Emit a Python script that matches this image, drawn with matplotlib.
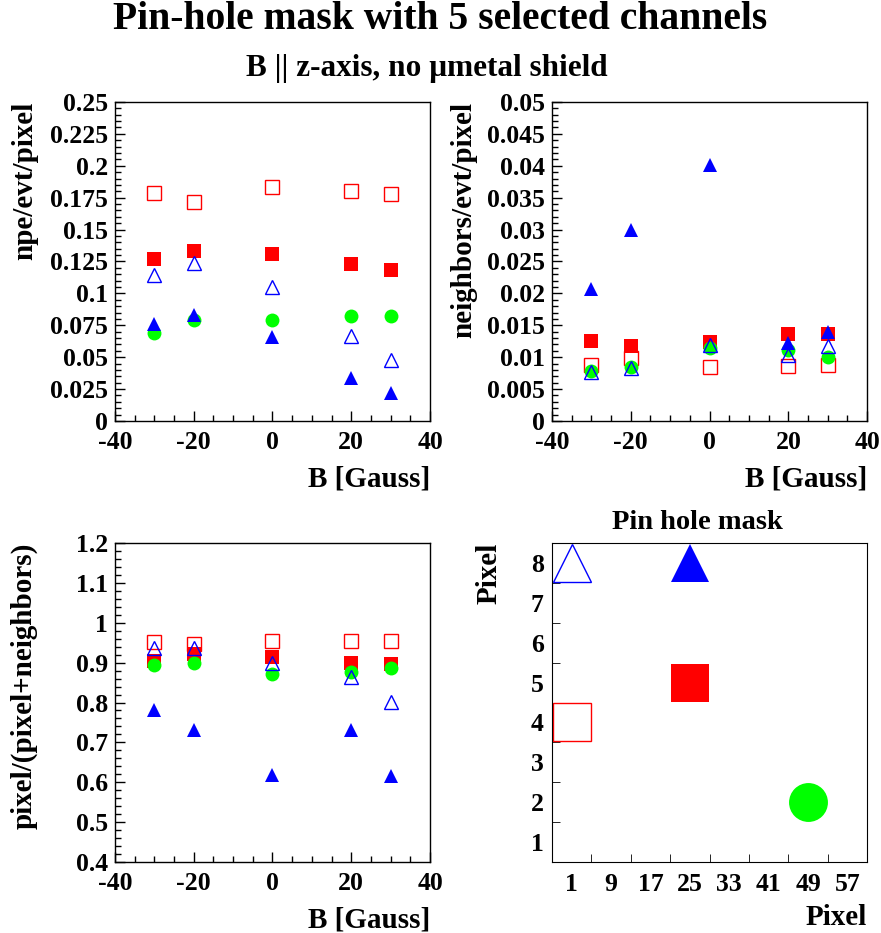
import numpy as np
import matplotlib.pyplot as plt
from matplotlib.ticker import MultipleLocator

plt.rcParams['font.family'] = ['Liberation Serif', 'DejaVu Serif']
plt.rcParams['font.weight'] = 'bold'
plt.rcParams['axes.labelweight'] = 'bold'
plt.rcParams['axes.titleweight'] = 'bold'
plt.rcParams['axes.unicode_minus'] = False

B = [-30, -20, 0, 20, 30]

# npe/evt/pixel
npe_open_sq = [0.179, 0.1715, 0.183, 0.180, 0.178]
npe_full_sq = [0.127, 0.133, 0.1305, 0.1234, 0.118]
npe_open_tri = [0.1145, 0.1237, 0.105, 0.0667, 0.048]
npe_full_tri = [0.0758, 0.083, 0.066, 0.0337, 0.022]
npe_circle = [0.0693, 0.079, 0.079, 0.0824, 0.0824]

# neighbors/evt/pixel
nb_open_sq = [0.0088, 0.0099, 0.0084, 0.0086, 0.0087]
nb_full_sq = [0.0126, 0.0117, 0.0124, 0.0137, 0.0137]
nb_open_tri = [0.0076, 0.0083, 0.0119, 0.0104, 0.0118]
nb_full_tri = [0.0207, 0.0299, 0.0401, 0.0122, 0.014]
nb_circle = [0.0079, 0.0084, 0.0114, 0.0112, 0.0101]

# pixel/(pixel+neighbors)
fr_open_sq = [0.951, 0.946, 0.955, 0.953, 0.953]
fr_full_sq = [0.905, 0.922, 0.913, 0.898, 0.896]
fr_open_tri = [0.936, 0.936, 0.898, 0.865, 0.802]
fr_full_tri = [0.781, 0.731, 0.619, 0.731, 0.615]
fr_circle = [0.894, 0.900, 0.872, 0.877, 0.886]

# pin hole positions (pixel column, row)
mask_x = [1, 25, 25, 1, 49]
mask_y = [8, 8, 5, 4, 2]
mask_labels = ['1', '9', '17', '25', '33', '41', '49', '57']

RED = '#ff0000'
BLUE = '#0000ff'
GREEN = '#00ff00'
ms = 9.5

fig = plt.figure(figsize=(8.81, 9.33), dpi=100)
fs_tick = 18.5
fs_lab = 21


def draw_series(ax, osq, fsq, otri, ftri, circ):
    ax.plot(B, osq, 's', ms=ms, mfc='none', mec=RED, mew=1)
    ax.plot(B, fsq, 's', ms=ms, color=RED, mew=0)
    ax.plot(B, circ, 'o', ms=ms + 0.5, color=GREEN, mew=0)
    ax.plot(B, ftri, '^', ms=ms + 0.5, color=BLUE, mew=0)
    ax.plot(B, otri, '^', ms=ms + 0.5, mfc='none', mec=BLUE, mew=1)


def style(ax, major, minor, ylabel, ylim, lab_x):
    ax.set_xlim(-40, 40)
    ax.set_ylim(*ylim)
    ax.xaxis.set_major_locator(MultipleLocator(20))
    ax.xaxis.set_minor_locator(MultipleLocator(5))
    ax.yaxis.set_major_locator(MultipleLocator(major))
    ax.yaxis.set_minor_locator(MultipleLocator(minor))
    ax.tick_params(which='both', direction='in', top=False, right=False,
                   labelsize=fs_tick, width=1)
    ax.tick_params(which='major', length=7.5, pad=5)
    ax.tick_params(which='minor', length=4)
    ax.tick_params(axis='x', pad=7.5)
    ax.yaxis.set_major_formatter(plt.FuncFormatter(lambda v, p: '%g' % round(v, 4)))
    ax.set_ylabel(ylabel, fontsize=fs_lab, loc='top')
    ax.yaxis.set_label_coords(lab_x, 1.0)
    ax.set_xlabel('B [Gauss]', fontsize=fs_lab, loc='right', labelpad=8)
    for s in ax.spines.values():
        s.set_linewidth(1)


ax1 = fig.add_axes([0.1305, 0.5488, 0.3576, 0.3419])
draw_series(ax1, npe_open_sq, npe_full_sq, npe_open_tri, npe_full_tri, npe_circle)
style(ax1, 0.025, 0.005, 'npe/evt/pixel', (0, 0.25), -0.244)

ax2 = fig.add_axes([0.6266, 0.5488, 0.3576, 0.3419])
draw_series(ax2, nb_open_sq, nb_full_sq, nb_open_tri, nb_full_tri, nb_circle)
style(ax2, 0.005, 0.001, 'neighbors/evt/pixel', (0, 0.05), -0.238)

ax3 = fig.add_axes([0.1305, 0.0761, 0.3576, 0.3419])
draw_series(ax3, fr_open_sq, fr_full_sq, fr_open_tri, fr_full_tri, fr_circle)
style(ax3, 0.1, 0.02, 'pixel/(pixel+neighbors)', (0.4, 1.2), -0.244)

# pin hole mask map
ax4 = fig.add_axes([0.6266, 0.0761, 0.3576, 0.3419])
big = 28
ax4.plot(mask_x[0], mask_y[0], '^', ms=big, mfc='none', mec=BLUE, mew=1, clip_on=False)
ax4.plot(mask_x[1], mask_y[1], '^', ms=big, color=BLUE, mew=0, clip_on=False)
ax4.plot(mask_x[2], mask_y[2], 's', ms=big, color=RED, mew=0)
ax4.plot(mask_x[3], mask_y[3], 's', ms=big, mfc='none', mec=RED, mew=1)
ax4.plot(mask_x[4], mask_y[4], 'o', ms=big, color=GREEN, mew=0)
ax4.set_xlim(-3, 61)
ax4.set_ylim(0.5, 8.5)
ax4.set_xticks(np.arange(1, 58, 8), mask_labels)
ax4.set_yticks(np.arange(1, 9))
ax4.set_xticks(np.arange(5, 60, 8), minor=True)
ax4.set_yticks(np.arange(1.5, 8.5, 1), minor=True)
ax4.tick_params(which='major', length=0, labelsize=fs_tick)
ax4.tick_params(axis='x', which='major', pad=8)
ax4.tick_params(axis='y', which='major', pad=6)
ax4.tick_params(which='minor', direction='in', length=6, top=False, right=False)
ax4.set_xlabel('Pixel', fontsize=fs_lab, loc='right', labelpad=6)
ax4.set_ylabel('Pixel', fontsize=fs_lab, loc='top')
ax4.yaxis.set_label_coords(-0.156, 1.0)
fig.text(0.792, 0.4395, 'Pin hole mask', ha='center', va='center', fontsize=20.5)

fig.text(0.5, 0.979, 'Pin-hole mask with 5 selected channels', ha='center', va='center',
         fontsize=28.5)
fig.text(0.484, 0.927, 'B || z-axis, no \u03bcmetal shield', ha='center', va='center',
         fontsize=22.5)

fig.savefig('out.png', dpi=100)
